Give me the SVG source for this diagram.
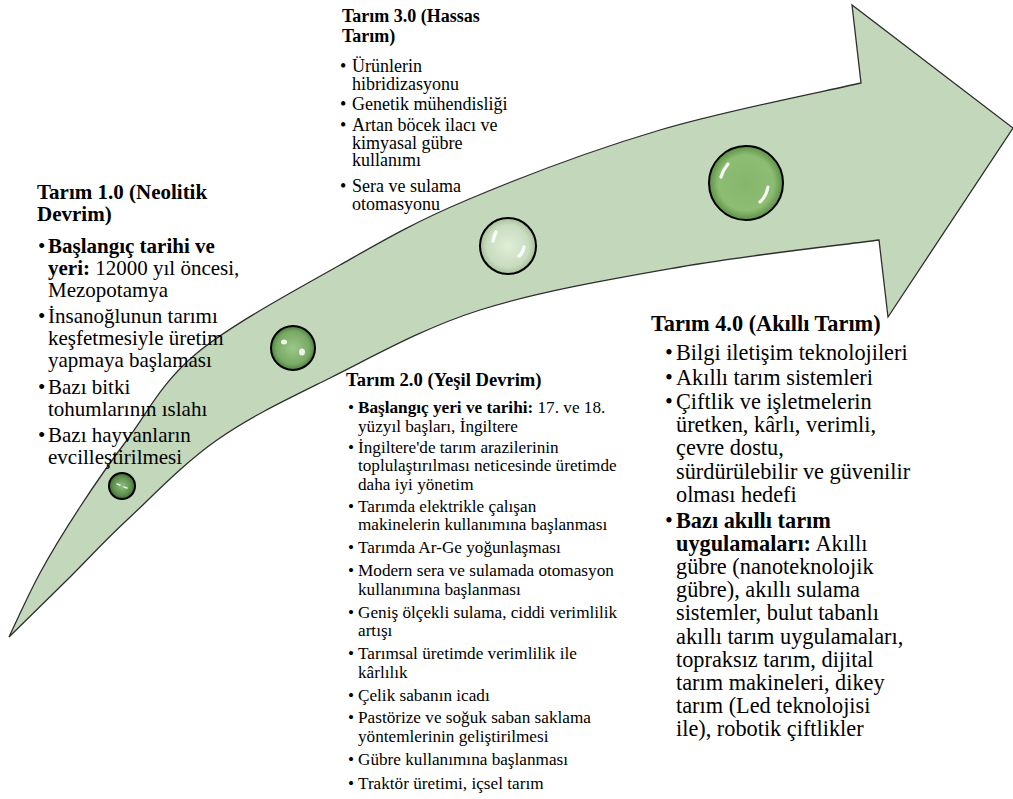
<svg xmlns="http://www.w3.org/2000/svg" width="1013" height="799" viewBox="0 0 1013 799" font-family="Liberation Serif, serif">
<style>
text{font-family:'Liberation Serif',serif;fill:#000}
.t1{font-size:21px}
.t2{font-size:17.2px}
.t2h{font-size:18.6px}
.t3{font-size:18px}
.t4{font-size:22.3px}
.b{font-weight:bold}
.arrow{fill:#c3d8bb;stroke:#2e2e2e;stroke-width:1.3}
.ring{stroke:#000;stroke-width:2}
.hl{fill:none;stroke:#fff;stroke-linecap:round;opacity:0.9}
</style>
<defs>
<radialGradient id="g1" cx="50%" cy="50%" r="50%">
<stop offset="0" stop-color="#8fbf7c"/><stop offset="0.7" stop-color="#5f8f4c"/><stop offset="1" stop-color="#3f6a32"/>
</radialGradient>
<radialGradient id="g2" cx="50%" cy="50%" r="50%">
<stop offset="0" stop-color="#9cc789"/><stop offset="0.75" stop-color="#78aa64"/><stop offset="1" stop-color="#4f7e40"/>
</radialGradient>
<radialGradient id="g3" cx="50%" cy="50%" r="50%">
<stop offset="0" stop-color="#dfeed8"/><stop offset="0.75" stop-color="#c8dcbf"/><stop offset="1" stop-color="#a7c09b"/>
</radialGradient>
<radialGradient id="g4" cx="50%" cy="50%" r="50%">
<stop offset="0" stop-color="#86b66c"/><stop offset="0.75" stop-color="#8cbd72"/><stop offset="1" stop-color="#5d8f47"/>
</radialGradient>
</defs>

<g id="arrow">
<path class="arrow" d="M9,637 C14.2,626.3 28.2,594.7 40,573 C51.8,551.3 65.5,529.2 80,507 C94.5,484.8 107.5,465.7 127,440 C146.5,414.3 161.5,382.2 197,353 C232.5,323.8 295,290.5 340,265 C385,239.5 413.7,222.5 467,200 C520.3,177.5 594.3,149.5 660,130 C725.7,110.5 827.5,90.8 861,83 L852,5 L1013,128 L888,317 L879,240 C845.8,244.5 746.5,255.3 680,267 C613.5,278.7 538.3,291.5 480,310 C421.7,328.5 373.8,356.3 330,378 C286.2,399.7 250.8,416.3 217,440 C183.2,463.7 152,496.7 127,520 C102,543.3 86.7,560.5 67,580 C47.3,599.5 18.7,627.5 9,637 Z"/>
</g>

<g id="step1-ball">
<circle class="ring" cx="122" cy="486" r="13" fill="url(#g1)"/>
<path class="hl" stroke-width="1.5" d="M117,484 L120,485 M124,487 L127,488"/>
</g>
<g id="step2-ball">
<circle class="ring" cx="293" cy="348" r="22" fill="url(#g2)"/>
<ellipse cx="284" cy="342" rx="3" ry="2.5" fill="#fff" opacity="0.85"/>
<ellipse cx="302" cy="352" rx="3" ry="3.5" fill="#fff" opacity="0.85"/>
</g>
<g id="step3-ball">
<circle class="ring" cx="508" cy="246" r="28" fill="url(#g3)"/>
<path class="hl" stroke-width="3.5" d="M496,232 Q494,236 493,241 M524,247 Q523,253 519,256"/>
</g>
<g id="step4-ball">
<circle class="ring" cx="746" cy="183" r="37" fill="url(#g4)"/>
<path class="hl" stroke-width="3.2" d="M728,164 Q723,170 721,177 M768,187 Q766,197 760,202"/>
</g>

<g id="tarim1">
<text class="t1 b" x="37" y="199">Tarım 1.0 (Neolitik</text>
<text class="t1 b" x="37" y="221">Devrim)</text>
<text class="t1" x="38" y="253">•</text><text class="t1 b" x="48" y="253">Başlangıç tarihi ve</text>
<text class="t1" x="48" y="275"><tspan class="b">yeri:</tspan> 12000 yıl öncesi,</text>
<text class="t1" x="48" y="297">Mezopotamya</text>
<text class="t1" x="38" y="323">•</text><text class="t1" x="48" y="323">İnsanoğlunun tarımı</text>
<text class="t1" x="48" y="345">keşfetmesiyle üretim</text>
<text class="t1" x="48" y="367">yapmaya başlaması</text>
<text class="t1" x="38" y="394">•</text><text class="t1" x="48" y="394">Bazı bitki</text>
<text class="t1" x="48" y="416">tohumlarının ıslahı</text>
<text class="t1" x="38" y="442">•</text><text class="t1" x="48" y="442">Bazı hayvanların</text>
<text class="t1" x="48" y="464">evcilleştirilmesi</text>
</g>

<g id="tarim3">
<text class="t3 b" x="342" y="21.7">Tarım 3.0 (Hassas</text>
<text class="t3 b" x="342" y="41.5">Tarım)</text>
<text class="t3" x="340" y="72">•</text><text class="t3" x="352" y="72">Ürünlerin</text>
<text class="t3" x="352" y="89.5">hibridizasyonu</text>
<text class="t3" x="340" y="110">•</text><text class="t3" x="352" y="110">Genetik mühendisliği</text>
<text class="t3" x="340" y="131">•</text><text class="t3" x="352" y="131">Artan böcek ilacı ve</text>
<text class="t3" x="352" y="148.5">kimyasal gübre</text>
<text class="t3" x="352" y="166">kullanımı</text>
<text class="t3" x="340" y="192">•</text><text class="t3" x="352" y="192">Sera ve sulama</text>
<text class="t3" x="352" y="209.5">otomasyonu</text>
</g>

<g id="tarim2">
<text class="t2h b" x="346" y="386">Tarım 2.0 (Yeşil Devrim)</text>
<text class="t2" x="348" y="413">•</text><text class="t2" x="358" y="413"><tspan class="b">Başlangıç yeri ve tarihi:</tspan> 17. ve 18.</text>
<text class="t2" x="358" y="431.5">yüzyıl başları, İngiltere</text>
<text class="t2" x="348" y="452.5">•</text><text class="t2" x="358" y="452.5">İngiltere'de tarım arazilerinin</text>
<text class="t2" x="358" y="471">toplulaştırılması neticesinde üretimde</text>
<text class="t2" x="358" y="489.5">daha iyi yönetim</text>
<text class="t2" x="348" y="511.5">•</text><text class="t2" x="358" y="511.5">Tarımda elektrikle çalışan</text>
<text class="t2" x="358" y="530">makinelerin kullanımına başlanması</text>
<text class="t2" x="348" y="553">•</text><text class="t2" x="358" y="553">Tarımda Ar-Ge yoğunlaşması</text>
<text class="t2" x="348" y="576">•</text><text class="t2" x="358" y="576">Modern sera ve sulamada otomasyon</text>
<text class="t2" x="358" y="594.5">kullanımına başlanması</text>
<text class="t2" x="348" y="617.5">•</text><text class="t2" x="358" y="617.5">Geniş ölçekli sulama, ciddi verimlilik</text>
<text class="t2" x="358" y="636">artışı</text>
<text class="t2" x="348" y="659">•</text><text class="t2" x="358" y="659">Tarımsal üretimde verimlilik ile</text>
<text class="t2" x="358" y="677.5">kârlılık</text>
<text class="t2" x="348" y="700.5">•</text><text class="t2" x="358" y="700.5">Çelik sabanın icadı</text>
<text class="t2" x="348" y="723">•</text><text class="t2" x="358" y="723">Pastörize ve soğuk saban saklama</text>
<text class="t2" x="358" y="741.5">yöntemlerinin geliştirilmesi</text>
<text class="t2" x="348" y="765">•</text><text class="t2" x="358" y="765">Gübre kullanımına başlanması</text>
<text class="t2" x="348" y="789">•</text><text class="t2" x="358" y="789">Traktör üretimi, içsel tarım</text>
</g>

<g id="tarim4">
<text class="t4 b" x="651" y="331">Tarım 4.0 (Akıllı Tarım)</text>
<text class="t4" x="665" y="360">•</text><text class="t4" x="676" y="360">Bilgi iletişim teknolojileri</text>
<text class="t4" x="665" y="385">•</text><text class="t4" x="676" y="385">Akıllı tarım sistemleri</text>
<text class="t4" x="665" y="409">•</text><text class="t4" x="676" y="409">Çiftlik ve işletmelerin</text>
<text class="t4" x="676" y="432.2">üretken, kârlı, verimli,</text>
<text class="t4" x="676" y="455.4">çevre dostu,</text>
<text class="t4" x="676" y="478.6">sürdürülebilir ve güvenilir</text>
<text class="t4" x="676" y="501.8">olması hedefi</text>
<text class="t4" x="665" y="527.5">•</text><text class="t4 b" x="676" y="527.5">Bazı akıllı tarım</text>
<text class="t4" x="676" y="550.7"><tspan class="b">uygulamaları:</tspan> Akıllı</text>
<text class="t4" x="676" y="573.9">gübre (nanoteknolojik</text>
<text class="t4" x="676" y="597.1">gübre), akıllı sulama</text>
<text class="t4" x="676" y="620.3">sistemler, bulut tabanlı</text>
<text class="t4" x="676" y="643.5">akıllı tarım uygulamaları,</text>
<text class="t4" x="676" y="666.7">topraksız tarım, dijital</text>
<text class="t4" x="676" y="689.9">tarım makineleri, dikey</text>
<text class="t4" x="676" y="713.1">tarım (Led teknolojisi</text>
<text class="t4" x="676" y="736.3">ile), robotik çiftlikler</text>
</g>
</svg>
